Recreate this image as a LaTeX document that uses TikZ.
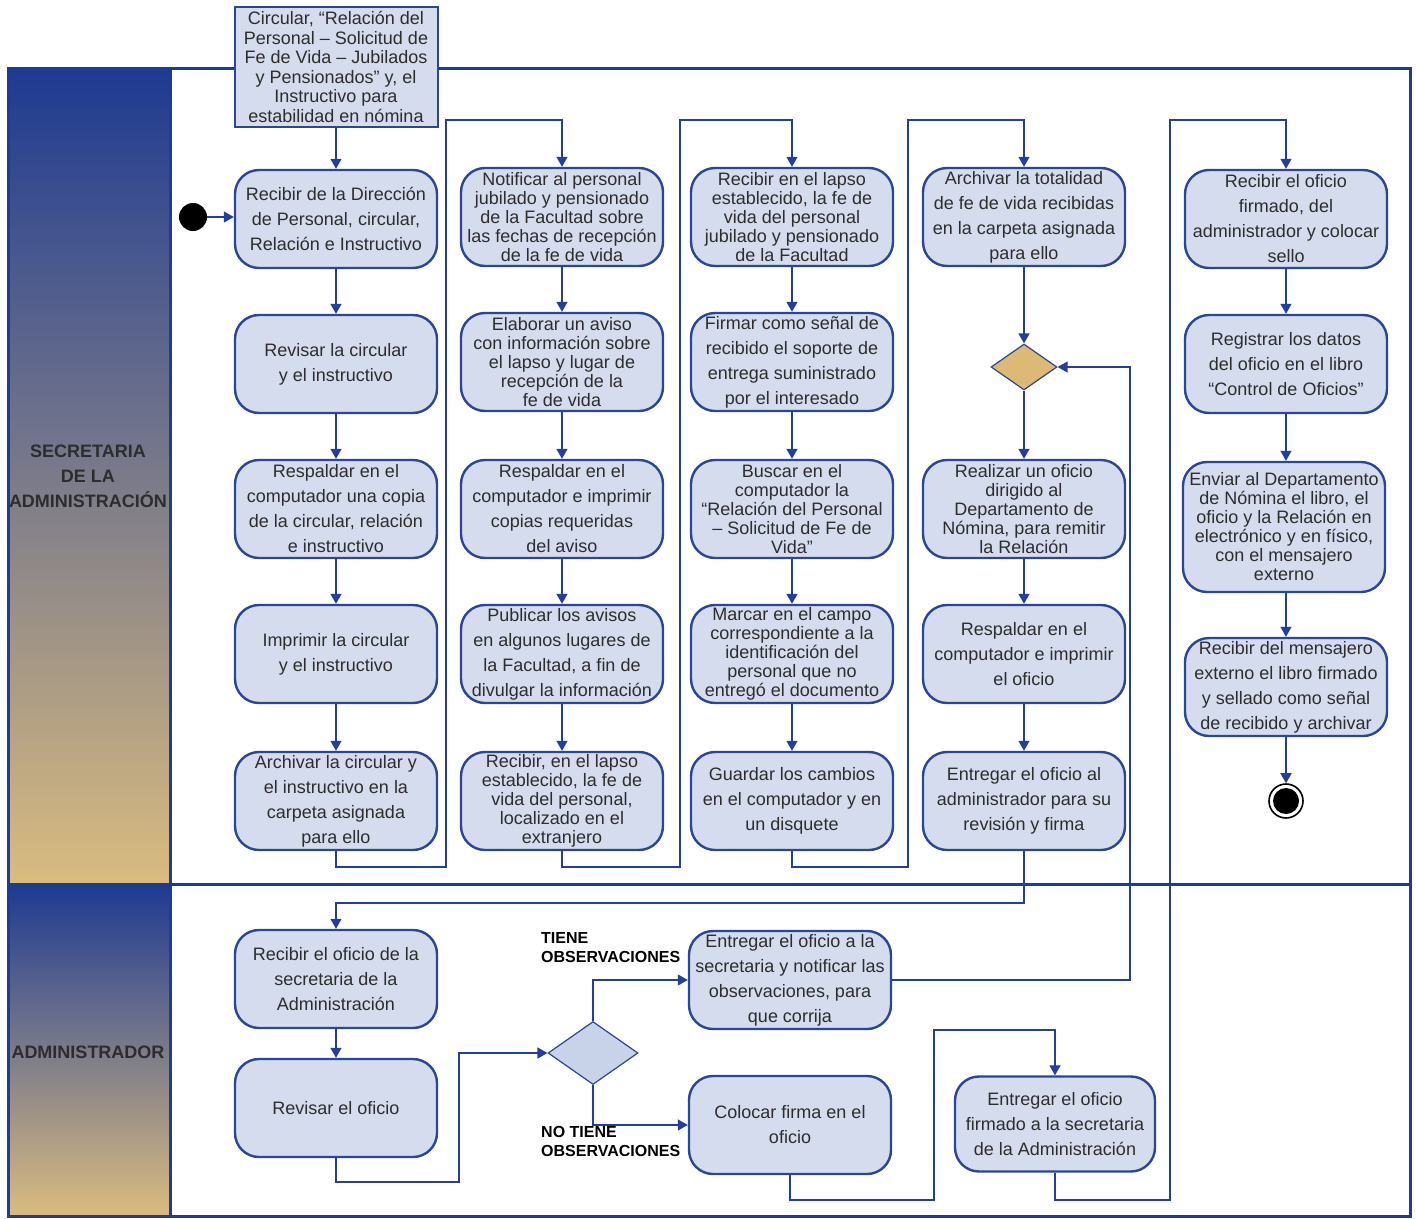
\documentclass[tikz,border=0pt]{standalone}
\usepackage{fontspec}
\setmainfont{Liberation Sans}
\usetikzlibrary{arrows.meta,shapes.geometric}
\definecolor{boxfill}{RGB}{212,220,238}
\definecolor{boxline}{RGB}{43,69,151}
\definecolor{conn}{RGB}{35,62,158}
\definecolor{wrapc}{RGB}{72,88,152}
\definecolor{lanefr}{RGB}{30,60,150}
\definecolor{txt}{RGB}{45,45,45}
\definecolor{hdtop}{RGB}{30,58,145}
\definecolor{hdmid}{RGB}{122,122,138}
\definecolor{hdbot}{RGB}{218,188,128}
\definecolor{decor}{RGB}{221,185,118}
\definecolor{decadm}{RGB}{200,210,232}
\begin{document}
\begin{tikzpicture}[x=1pt,y=-1pt,
  act/.style={draw=boxline,line width=2.4pt,fill=boxfill,rounded corners=24pt,
    minimum width=202pt,minimum height=98pt,align=center,text=txt,inner sep=1pt,
    font=\fontsize{18}{25}\selectfont},
  tight/.style={font=\fontsize{18}{19}\selectfont},
  docbox/.style={draw=boxline,line width=2pt,fill=boxfill,minimum width=203pt,
    minimum height=120pt,align=center,text=txt,inner sep=1pt,
    font=\fontsize{18}{19.5}\selectfont},
  decision/.style={diamond,draw=boxline,line width=1.2pt,inner sep=0pt},
  arr/.style={draw=conn,line width=1.5pt,-{Triangle[length=10pt,width=11pt]}},
  wrapline/.style={draw=wrapc,line width=1.2pt},
  lanelbl/.style={font=\fontsize{18}{25}\bfseries\selectfont,text=txt,align=center},
  guard/.style={font=\fontsize{16}{19}\bfseries\selectfont,text=black,align=left,anchor=north west,inner sep=0pt},
]
\useasboundingbox (0,0) rectangle (1416,1218);
% lane headers
\shade[top color=hdtop,bottom color=hdbot,middle color=hdmid] (8,68) rectangle (170,884);
\shade[top color=hdtop,bottom color=hdbot,middle color=hdmid] (8,884) rectangle (170,1216);
\draw[lanefr,line width=3pt] (8,68) rectangle (1410,1216);
\draw[lanefr,line width=3pt] (8,884) -- (1410,884);
\draw[lanefr,line width=3pt] (170,68) -- (170,1216);
\node[lanelbl] (lane1) at (88,476) {SECRETARIA\\DE LA\\ADMINISTRACIÓN};
\node[lanelbl] (lane2) at (88,1052) {ADMINISTRADOR};

% top document
\node[docbox] (doc) at (336,67) {Circular, “Relación del\\Personal – Solicitud de\\Fe de Vida – Jubilados\\y Pensionados” y, el\\Instructivo para\\estabilidad en nómina};

% start
\node[circle,fill=black,minimum size=28pt,inner sep=0pt] (start) at (193,217) {};

% column 1
\node[act] (c1r1) at (336,219) {Recibir de la Dirección\\de Personal, circular,\\Relación e Instructivo};
\node[act] (c1r2) at (336,364) {Revisar la circular\\y el instructivo};
\node[act] (c1r3) at (336,509) {Respaldar en el\\computador una copia\\de la circular, relación\\e instructivo};
\node[act] (c1r4) at (336,654) {Imprimir la circular\\y el instructivo};
\node[act] (c1r5) at (336,801) {Archivar la circular y\\el instructivo en la\\carpeta asignada\\para ello};

% column 2
\node[act,tight] (c2r1) at (562,217) {Notificar al personal\\jubilado y pensionado\\de la Facultad sobre\\las fechas de recepción\\de la fe de vida};
\node[act,tight] (c2r2) at (562,362) {Elaborar un aviso\\con información sobre\\el lapso y lugar de\\recepción de la\\fe de vida};
\node[act] (c2r3) at (562,509) {Respaldar en el\\computador e imprimir\\copias requeridas\\del aviso};
\node[act] (c2r4) at (562,654) {Publicar los avisos\\en algunos lugares de\\la Facultad, a fin de\\divulgar la información};
\node[act,tight] (c2r5) at (562,801) {Recibir, en el lapso\\establecido, la fe de\\vida del personal,\\localizado en el\\extranjero};

% column 3
\node[act,tight] (c3r1) at (792,217) {Recibir en el lapso\\establecido, la fe de\\vida del personal\\jubilado y pensionado\\de la Facultad};
\node[act] (c3r2) at (792,362) {Firmar como señal de\\recibido el soporte de\\entrega suministrado\\por el interesado};
\node[act,tight] (c3r3) at (792,509) {Buscar en el\\computador la\\“Relación del Personal\\– Solicitud de Fe de\\Vida”};
\node[act,tight] (c3r4) at (792,654) {Marcar en el campo\\correspondiente a la\\identificación del\\personal que no\\entregó el documento};
\node[act] (c3r5) at (792,801) {Guardar los cambios\\en el computador y en\\un disquete};

% column 4
\node[act] (c4r1) at (1024,217) {Archivar la totalidad\\de fe de vida recibidas\\en la carpeta asignada\\para ello};
\node[decision,fill=decor,minimum width=66pt,minimum height=46pt] (dia1) at (1024,367) {};
\node[act,tight] (c4r3) at (1024,509) {Realizar un oficio\\dirigido al\\Departamento de\\Nómina, para remitir\\la Relación};
\node[act] (c4r4) at (1024,654) {Respaldar en el\\computador e imprimir\\el oficio};
\node[act] (c4r5) at (1024,801) {Entregar el oficio al\\administrador para su\\revisión y firma};

% column 5
\node[act] (c5r1) at (1286,219) {Recibir el oficio\\firmado, del\\administrador y colocar\\sello};
\node[act] (c5r2) at (1286,364) {Registrar los datos\\del oficio en el libro\\“Control de Oficios”};
\node[act,tight,minimum height=130pt] (c5r3) at (1284,527) {Enviar al Departamento\\de Nómina el libro, el\\oficio y la Relación en\\electrónico y en físico,\\con el mensajero\\externo};
\node[act] (c5r4) at (1286,687) {Recibir del mensajero\\externo el libro firmado\\y sellado como señal\\de recibido y archivar};
\node[circle,draw=black,line width=1.6pt,fill=white,minimum size=34pt,inner sep=0pt] (endo) at (1286,801) {};
\node[circle,fill=black,minimum size=26pt,inner sep=0pt] (endi) at (1286,801) {};

% lane 2
\node[act] (a1) at (336,979) {Recibir el oficio de la\\secretaria de la\\Administración};
\node[act] (a2) at (336,1108) {Revisar el oficio};
\node[decision,fill=decadm,minimum width=90pt,minimum height=63pt] (dia2) at (593,1053) {};
\node[act] (a3) at (790,980) {Entregar el oficio a la\\secretaria y notificar las\\observaciones, para\\que corrija};
\node[act] (a4) at (790,1125) {Colocar firma en el\\oficio};
\node[act,minimum width=200pt,minimum height=95pt] (a5) at (1055,1124) {Entregar el oficio\\firmado a la secretaria\\de la Administración};
\node[guard] (g1) at (541,932) {TIENE\\OBSERVACIONES};
\node[guard] (g2) at (541,1126) {NO TIENE\\OBSERVACIONES};

% connectors
\begin{scope}[on background layer/.style={}]
\draw[arr] (doc) -- (c1r1);
\draw[arr] (start) -- (start -| c1r1.west);
\draw[arr] (c1r1) -- (c1r2);
\draw[arr] (c1r2) -- (c1r3);
\draw[arr] (c1r3) -- (c1r4);
\draw[arr] (c1r4) -- (c1r5);
\draw[arr] (c2r1) -- (c2r2);
\draw[arr] (c2r2) -- (c2r3);
\draw[arr] (c2r3) -- (c2r4);
\draw[arr] (c2r4) -- (c2r5);
\draw[arr] (c3r1) -- (c3r2);
\draw[arr] (c3r2) -- (c3r3);
\draw[arr] (c3r3) -- (c3r4);
\draw[arr] (c3r4) -- (c3r5);
\draw[arr] (c4r1) -- (dia1);
\draw[arr] (dia1) -- (c4r3);
\draw[arr] (c4r3) -- (c4r4);
\draw[arr] (c4r4) -- (c4r5);
\draw[arr] (c5r1) -- (c5r2);
\draw[arr] (c5r2.south) -- (c5r3.north -| c5r2.south);
\draw[arr] (c5r3.south -| c5r4.north) -- (c5r4);
\draw[arr] (c5r4) -- (endo);
\draw[wrapline,arr] (c1r5.south) -- (336,867) -| (446,120) -| (c2r1.north);
\draw[wrapline,arr] (c2r5.south) -- (562,867) -| (680,120) -| (c3r1.north);
\draw[wrapline,arr] (c3r5.south) -- (792,867) -| (908,120) -| (c4r1.north);
\draw[arr] (c4r5.south) -- (1024,903) -| (a1.north);
\draw[arr] (a1) -- (a2);
\draw[arr] (a2.south) -- (336,1182) -| (459,1053) -- (dia2.west);
\draw[arr] (dia2.north) |- (a3.west);
\draw[arr] (dia2.south) |- (a4.west);
\draw[arr] (a3.east) -| (1130,367) -- (dia1.east);
\draw[wrapline,arr] (a4.south) -- (790,1200) -| (934,1030) -| (a5.north);
\draw[wrapline,arr] (a5.south) -- (1055,1200) -| (1170,120) -| (c5r1.north);
\end{scope}
\end{tikzpicture}
\end{document}
